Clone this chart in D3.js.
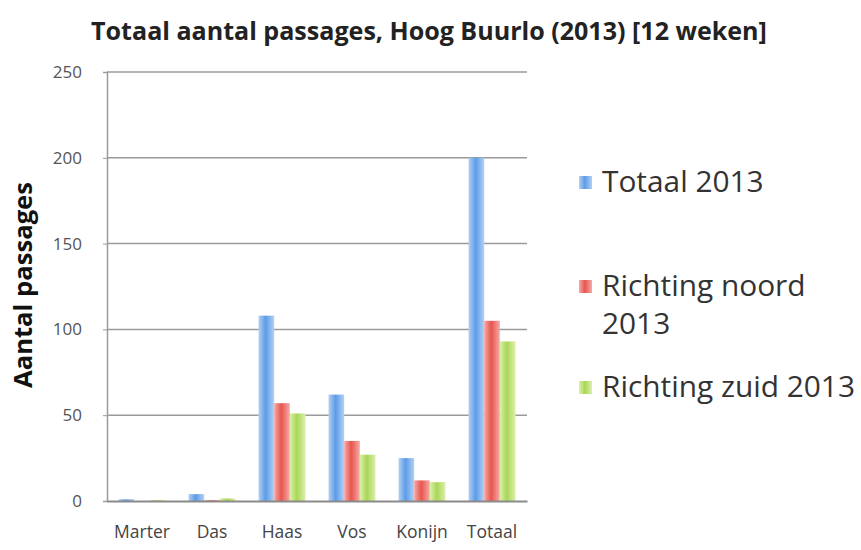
<!DOCTYPE html>
<html>
<head>
<meta charset="utf-8">
<script src="https://cdnjs.cloudflare.com/ajax/libs/d3/7.8.5/d3.min.js"></script>
<style>
  body { margin: 0; background: #fff; }
  text { font-family: "Open Sans", "Liberation Sans", sans-serif; }
</style>
</head>
<body>
<div id="chart"></div>
<script>
// data
var categories = ["Marter", "Das", "Haas", "Vos", "Konijn", "Totaal"];
var seriesNames = ["Totaal 2013", "Richting noord 2013", "Richting zuid 2013"];
var totaal = [1, 4, 108, 62, 25, 200];
var noord = [0, 0.5, 57, 35, 12, 105];
var zuid = [0.5, 1.5, 51, 27, 11, 93];
var yTicks = [0, 50, 100, 150, 200, 250];

var seriesValues = [totaal, noord, zuid];

(function() {
  var width = 861, height = 550;
  var margin = { top: 72, left: 107, right: 334, bottom: 49 };
  var plotW = width - margin.left - margin.right,
      plotH = height - margin.top - margin.bottom;

  var svg = d3.select("#chart")
    .append("svg")
    .attr("width", width)
    .attr("height", height);

  var defs = svg.append("defs");
  var colors = [
    { edge: "#b3d0f3", mid: "#5b9ce8" },
    { edge: "#f5aaa6", mid: "#e8554e" },
    { edge: "#dcf0a9", mid: "#a9d659" }
  ];
  colors.forEach(function(c, i) {
    var g = defs.append("linearGradient")
      .attr("id", "grad" + i)
      .attr("x1", "0%").attr("x2", "100%")
      .attr("y1", "0%").attr("y2", "0%");
    g.append("stop").attr("offset", "0%").attr("stop-color", c.edge);
    g.append("stop").attr("offset", "45%").attr("stop-color", c.mid);
    g.append("stop").attr("offset", "100%").attr("stop-color", c.edge);
  });

  var chart = svg.append("g")
    .attr("transform", "translate(" + margin.left + "," + margin.top + ")");

  var xScale = d3.scaleBand()
    .domain(categories)
    .range([0, plotW])
    .paddingInner(0.33)
    .paddingOuter(0.165);

  var xInner = d3.scaleBand()
    .domain(d3.range(seriesNames.length))
    .range([0, xScale.bandwidth()]);

  var yScale = d3.scaleLinear().domain([0, 250]).range([plotH, 0]);

  // gridlines
  chart.selectAll(".grid")
    .data(yTicks.filter(function(d) { return d > 0; }))
    .enter().append("line")
    .attr("class", "grid")
    .attr("x1", 0)
    .attr("x2", plotW)
    .attr("y1", function(d) { return yScale(d); })
    .attr("y2", function(d) { return yScale(d); })
    .attr("stroke", "#9a9a9a")
    .attr("stroke-width", 1.5);

  // y axis
  var yAxis = d3.axisLeft(yScale).tickValues(yTicks).tickSize(4).tickPadding(21);
  var yg = chart.append("g").attr("class", "y-axis").call(yAxis);
  yg.select(".domain").attr("stroke", "#9a9a9a").attr("stroke-width", 1.5);
  yg.selectAll(".tick line").attr("stroke", "#9a9a9a");
  yg.selectAll(".tick text")
    .attr("fill", "#555")
    .style("font-size", "17px");

  // bars
  var groups = chart.selectAll(".group")
    .data(categories)
    .enter().append("g")
    .attr("class", "group")
    .attr("transform", function(d) { return "translate(" + xScale(d) + ",0)"; });

  groups.selectAll("rect")
    .data(function(d, i) {
      return seriesValues.map(function(s, j) { return { s: j, v: s[i] }; });
    })
    .enter().append("rect")
    .attr("x", function(d) { return xInner(d.s); })
    .attr("width", xInner.bandwidth())
    .attr("y", function(d) { return yScale(d.v); })
    .attr("height", function(d) { return plotH - yScale(d.v); })
    .attr("fill", function(d) { return "url(#grad" + d.s + ")"; });

  // x axis
  var xAxis = d3.axisBottom(xScale).tickSize(0).tickPadding(25);
  var xg = chart.append("g")
    .attr("class", "x-axis")
    .attr("transform", "translate(0," + plotH + ")")
    .call(xAxis);
  xg.select(".domain").attr("stroke", "#8a8a8a").attr("stroke-width", 2);
  xg.selectAll(".tick text")
    .attr("fill", "#444")
    .style("font-size", "17.5px");

  function fitText(sel, target) {
    var w = sel.node().getComputedTextLength();
    var fs = parseFloat(sel.style("font-size"));
    var nfs = fs * target / w;
    sel.style("font-size", nfs + "px");
    return nfs;
  }

  // title
  var title = svg.append("text")
    .attr("x", 429)
    .attr("y", 40)
    .attr("text-anchor", "middle")
    .attr("fill", "#222")
    .style("font-weight", "bold")
    .style("font-size", "20px")
    .text("Totaal aantal passages, Hoog Buurlo (2013) [12 weken]");
  fitText(title, 676);

  // y label
  var ylab = svg.append("text")
    .attr("transform", "translate(32,285) rotate(-90)")
    .attr("text-anchor", "middle")
    .attr("fill", "#111")
    .style("font-weight", "bold")
    .style("font-size", "18px")
    .text("Aantal passages");
  fitText(ylab, 206);

  // legend
  var legendItems = [
    { lines: ["Totaal 2013"], y: 183 },
    { lines: ["Richting noord", "2013"], y: 287 },
    { lines: ["Richting zuid 2013"], y: 388 }
  ];
  var probe = svg.append("text").style("font-size", "20px").text(seriesNames[2]);
  var legendSize = fitText(probe, 253);
  probe.remove();

  var legend = svg.append("g").attr("class", "legend");
  legendItems.forEach(function(item, i) {
    legend.append("rect")
      .attr("x", 579)
      .attr("y", item.y - 7)
      .attr("width", 13)
      .attr("height", 13)
      .attr("fill", "url(#grad" + i + ")");
    var t = legend.append("text")
      .attr("x", 602)
      .attr("y", item.y + 9)
      .attr("fill", "#333")
      .style("font-size", legendSize + "px");
    item.lines.forEach(function(l, k) {
      t.append("tspan")
        .attr("x", 602)
        .attr("dy", k === 0 ? 0 : 38)
        .text(l);
    });
  });
})();
</script>
</body>
</html>
